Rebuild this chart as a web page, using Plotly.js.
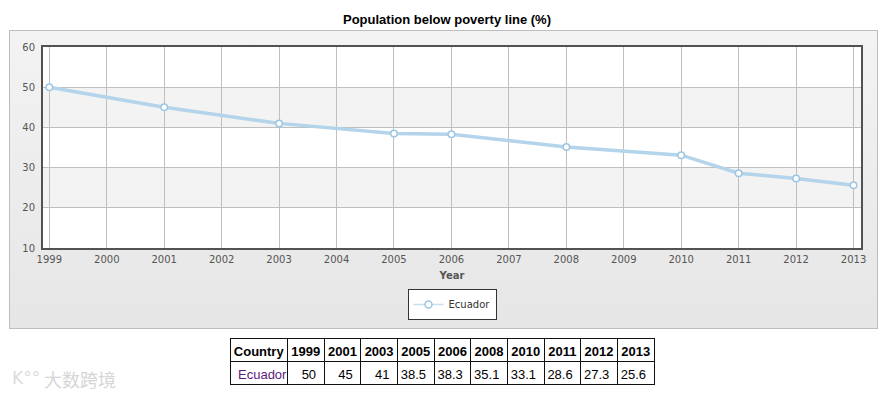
<!DOCTYPE html>
<html>
<head>
<meta charset="utf-8">
<script src="https://cdn.plot.ly/plotly-3.0.1.min.js"></script>
<style>
html, body { margin:0; padding:0; background:#fff; width:885px; height:396px; overflow:hidden; }
#panel { position:absolute; left:9px; top:30px; width:867px; height:297px; border:1px solid #bdbdbd;
  background:linear-gradient(to bottom, #f3f3f3 0%, #e6e6e6 100%); }
#chart { position:absolute; left:0; top:0; width:885px; height:396px; }
</style>
</head>
<body>
<div id="panel"></div>
<div id="chart"></div>
<script>
// ---- data ----
const country = "Ecuador";
const years = [1999, 2001, 2003, 2005, 2006, 2008, 2010, 2011, 2012, 2013];
const values = [50, 45, 41, 38.5, 38.3, 35.1, 33.1, 28.6, 27.3, 25.6];
const chartTitle = "Population below poverty line (%)";
const xTitle = "Year";
const xTicks = [1999,2000,2001,2002,2003,2004,2005,2006,2007,2008,2009,2010,2011,2012,2013];
const yTicks = [10, 20, 30, 40, 50, 60];
const watermark = "大数跨境";

const W = 885, H = 396;
const plotL = 43, plotR = 861, plotT = 47, plotB = 248;

const lineTrace = {
  type: 'scatter', mode: 'lines+markers', name: country,
  x: years, y: values, showlegend: false,
  line: { color: '#b3d4ea', width: 3.5 },
  marker: { symbol: 'circle', size: 6.5, color: '#ffffff', line: { color: '#9cc6e4', width: 1.5 } },
  cliponaxis: false
};

// legend-only entry (no data marks), thin line like the reference's legend icon
const legendTrace = {
  type: 'scatter', mode: 'lines+markers', name: country,
  x: [null], y: [null],
  line: { color: '#c5def0', width: 1.5 },
  marker: { symbol: 'circle', size: 7, color: '#ffffff', line: { color: '#9cc6e4', width: 1.5 } }
};

const tableTrace = {
  type: 'table',
  domain: { x: [230/W, 655/W], y: [(H-388)/H, (H-338)/H] },
  columnwidth: [58].concat(years.map(() => 37)),
  header: {
    values: ['Country'].concat(years.map(String)),
    align: 'center',
    height: 23,
    line: { color: '#111', width: 1 },
    fill: { color: '#ffffff' },
    font: { family: 'Liberation Sans, Arial, sans-serif', size: 13, color: '#000', weight: 'bold' }
  },
  cells: {
    values: [[country]].concat(values.map(v => [String(v)])),
    align: ['left'].concat(values.map(() => 'right')),
    height: 23,
    line: { color: '#111', width: 1 },
    fill: { color: '#ffffff' },
    font: { family: 'Liberation Sans, Arial, sans-serif', size: 13,
            color: ['#5b1a80'].concat(values.map(() => '#000')) }
  }
};

// alternating bands
const bands = [];
for (let i = 0; i < yTicks.length - 1; i++) {
  if (i % 2 === 1) {
    bands.push({ type:'rect', xref:'x domain', yref:'y', x0:0, x1:1, y0:yTicks[i], y1:yTicks[i+1],
      fillcolor:'#f3f3f3', line:{width:0}, layer:'below' });
  }
}

const layout = {
  width: W, height: H,
  margin: { l:0, r:0, t:0, b:0 },
  paper_bgcolor: 'rgba(0,0,0,0)',
  plot_bgcolor: '#ffffff',
  showlegend: true,
  title: { text: '<b>' + chartTitle + '</b>', x: 447/W, xanchor:'center', y: 1 - 19/H, yanchor:'middle',
    font: { family:'Liberation Sans, Arial, sans-serif', size:13, color:'#000' } },
  xaxis: {
    domain: [plotL/W, plotR/W],
    range: [1998.89, 2013.13],
    tickvals: xTicks, ticktext: xTicks.map(String),
    showgrid: true, gridcolor: '#bfbfbf', gridwidth: 1,
    zeroline: false,
    showline: true, mirror: true, linecolor: '#525252', linewidth: 2,
    ticks: '', ticklabelstandoff: 1,
    tickfont: { family:'DejaVu Sans, Verdana, sans-serif', size:10, color:'#555' },
    title: { text: '<b>' + xTitle + '</b>', standoff: 8,
      font: { family:'DejaVu Sans, Verdana, sans-serif', size:10, color:'#555' } }
  },
  yaxis: {
    domain: [(H-plotB)/H, (H-plotT)/H],
    range: [10, 60],
    tickvals: yTicks,
    showgrid: true, gridcolor: '#bfbfbf', gridwidth: 1,
    zeroline: false,
    showline: true, mirror: true, linecolor: '#525252', linewidth: 2,
    ticks: '', ticklabelstandoff: 4,
    tickfont: { family:'DejaVu Sans, Verdana, sans-serif', size:10, color:'#555' }
  },
  legend: {
    x: 452/W, xanchor:'center', y: (H-289)/H, yanchor:'top',
    bgcolor:'#ffffff', bordercolor:'#333', borderwidth:1,
    itemwidth: 30,
    font: { family:'DejaVu Sans, Verdana, sans-serif', size:10, color:'#333' }
  },
  shapes: bands,
  annotations: [
    { text: 'K°°', xref:'paper', yref:'paper', x: 10/W, y: (H-378)/H, xanchor:'left', yanchor:'middle',
      showarrow:false, font:{ family:'DejaVu Sans, sans-serif', size:17, color:'#dcdcdc' } },
    { text: watermark, xref:'paper', yref:'paper', x: 42/W, y: (H-379)/H, xanchor:'left', yanchor:'middle',
      showarrow:false, font:{ family:'Noto Sans CJK SC, sans-serif', size:18, color:'#d6d6d6' } }
  ]
};

Plotly.newPlot('chart', [lineTrace, legendTrace, tableTrace], layout, { displayModeBar:false, staticPlot:true });
</script>
</body>
</html>
